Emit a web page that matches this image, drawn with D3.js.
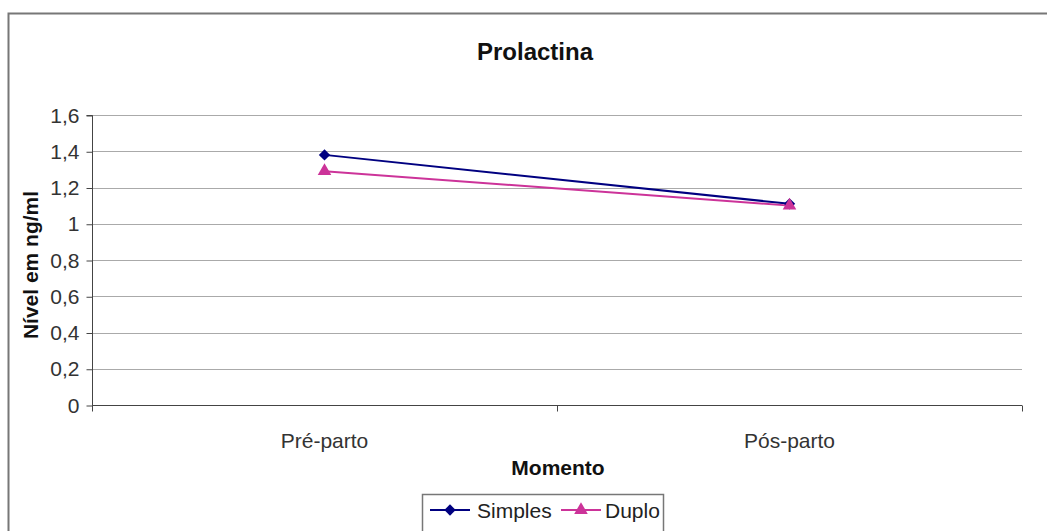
<!DOCTYPE html>
<html><head><meta charset="utf-8">
<script src="https://cdn.jsdelivr.net/npm/d3@7"></script>
<style>body{margin:0;background:#fff}svg{display:block}</style>
</head><body>
<script>
const categories = ["Pré-parto", "Pós-parto"];
const simples = [1.38, 1.11];
const duplo = [1.29, 1.10];
const yTicks = [0, 0.2, 0.4, 0.6, 0.8, 1, 1.2, 1.4, 1.6];
const seriesNames = ["Simples", "Duplo"];

(function () {
const W = 1047, H = 531;
const svg = d3.select("body").append("svg").attr("width", W).attr("height", H);
const font = "Liberation Sans, Arial, sans-serif";

// outer border (extends past right/bottom edges)
svg.append("rect").attr("x", 8.5).attr("y", 13.5).attr("width", 1100).attr("height", 600)
  .attr("fill", "none").attr("stroke", "#777").attr("stroke-width", 2);

const pL = 92, pR = 1022, pT = 115, pB = 405;
const x = d3.scaleBand().domain(categories).range([pL, pR]);
const y = d3.scaleLinear().domain([0, 1.6]).range([pB, pT]);

// gridlines
svg.append("g").selectAll("line").data(yTicks.filter(d => d > 0)).join("line")
  .attr("x1", pL).attr("x2", pR)
  .attr("y1", d => Math.round(y(d)) + 0.5).attr("y2", d => Math.round(y(d)) + 0.5)
  .attr("stroke", "#aaa").attr("stroke-width", 1);

// y axis
const yAxis = d3.axisLeft(y).tickValues(yTicks).tickSize(6).tickPadding(7)
  .tickFormat(d => String(d).replace(".", ","));
const gy = svg.append("g").attr("transform", `translate(${pL + 0.5},0.5)`).call(yAxis);
gy.select(".domain").attr("stroke", "#444").attr("d", `M-6,${pT}H0V${pB}`);
gy.selectAll(".tick line").attr("stroke", "#444");
gy.selectAll("text").attr("font-family", font).attr("font-size", 21).attr("fill", "#333");

// x axis
const gx = svg.append("g").attr("transform", `translate(0,${pB + 0.5})`);
gx.append("line").attr("x1", pL).attr("x2", pR).attr("stroke", "#444");
const boundaries = [pL, ...categories.map(c => x(c) + x.bandwidth())];
gx.selectAll("line.tk").data(boundaries).join("line").attr("class", "tk")
  .attr("x1", d => Math.round(d) + 0.5).attr("x2", d => Math.round(d) + 0.5)
  .attr("y1", 0).attr("y2", 6).attr("stroke", "#444");
gx.selectAll("text").data(categories).join("text")
  .attr("x", d => x(d) + x.bandwidth() / 2).attr("y", 42)
  .attr("text-anchor", "middle").attr("font-family", font).attr("font-size", 21).attr("fill", "#333")
  .text(d => d);

// titles
svg.append("text").attr("x", 535).attr("y", 60).attr("text-anchor", "middle")
  .attr("font-family", font).attr("font-weight", "bold").attr("font-size", 24).attr("fill", "#111").text("Prolactina");
svg.append("text").attr("x", 558).attr("y", 475).attr("text-anchor", "middle")
  .attr("font-family", font).attr("font-weight", "bold").attr("font-size", 21).attr("fill", "#111").text("Momento");
svg.append("text").attr("transform", `translate(38,${(pT + pB) / 2 + 5}) rotate(-90)`).attr("text-anchor", "middle")
  .attr("font-family", font).attr("font-weight", "bold").attr("font-size", 21).attr("fill", "#111").text("Nível em ng/ml");

const cx = d => x(d) + x.bandwidth() / 2;
const line = d3.line().x(d => cx(d.c)).y(d => y(d.v));
const sData = categories.map((c, i) => ({c, v: simples[i]}));
const dData = categories.map((c, i) => ({c, v: duplo[i]}));
const blue = "#000080", pink = "#cc3399";

svg.append("path").datum(sData).attr("d", line).attr("fill", "none").attr("stroke", blue).attr("stroke-width", 2);
svg.append("path").datum(dData).attr("d", line).attr("fill", "none").attr("stroke", pink).attr("stroke-width", 2);

const diamond = d3.symbol().type(d3.symbolSquare).size(64);
const tri = d3.symbol().type(d3.symbolTriangle).size(80);
svg.selectAll("path.sm").data(sData).join("path").attr("class", "sm")
  .attr("transform", d => `translate(${cx(d.c)},${y(d.v)}) rotate(45)`).attr("d", diamond).attr("fill", blue);
svg.selectAll("path.dm").data(dData).join("path").attr("class", "dm")
  .attr("transform", d => `translate(${cx(d.c)},${y(d.v)})`).attr("d", tri).attr("fill", pink);

// legend
const lg = svg.append("g");
lg.append("rect").attr("x", 422.5).attr("y", 494.5).attr("width", 241).attr("height", 50)
  .attr("fill", "#fff").attr("stroke", "#777").attr("stroke-width", 1.5);
const items = [{name: seriesNames[0], color: blue, sym: diamond, rot: 45, x0: 430, tx: 477},
               {name: seriesNames[1], color: pink, sym: tri, rot: 0, x0: 561, tx: 605}];
items.forEach(it => {
  lg.append("line").attr("x1", it.x0).attr("x2", it.x0 + 40).attr("y1", 510).attr("y2", 510)
    .attr("stroke", it.color).attr("stroke-width", 2);
  lg.append("path").attr("transform", `translate(${it.x0 + 20},510) rotate(${it.rot})`).attr("d", it.sym).attr("fill", it.color);
  lg.append("text").attr("x", it.tx).attr("y", 518).attr("font-family", font).attr("font-size", 21)
    .attr("fill", "#222").text(it.name);
});
})();
</script>
</body></html>
